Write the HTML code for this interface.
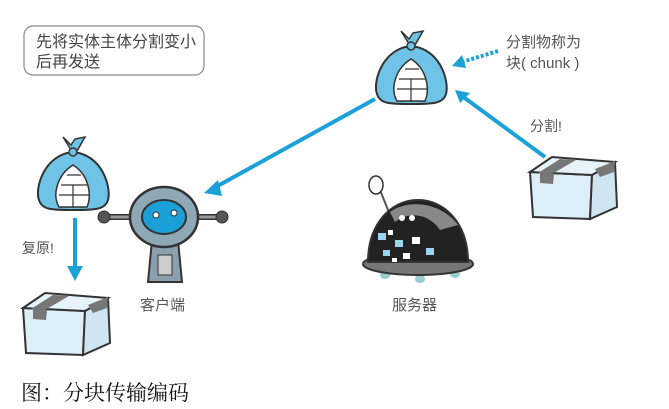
<!DOCTYPE html>
<html><head><meta charset="utf-8"><style>
html,body{margin:0;padding:0;background:#fff;}
body{width:669px;height:409px;overflow:hidden;position:relative;font-family:"Liberation Sans","Noto Sans CJK SC",sans-serif;}
.t{position:absolute;color:#555;white-space:nowrap;}
</style></head><body>
<svg width="669" height="409" style="position:absolute;left:0;top:0">
<defs>
<g id="box">
 <polygon points="0,15 62,18 60,62 3,60" fill="#dceef7" stroke="#333" stroke-width="2"/>
 <polygon points="62,18 85,5 87,50 60,62" fill="#cfe6f2" stroke="#333" stroke-width="2"/>
 <polygon points="0,15 22,0 85,5 62,18" fill="#e6f3fa" stroke="#333" stroke-width="2"/>
 <polygon points="30,2 46,3 22,17 8,16" fill="#777"/>
 <polygon points="10,16 24,17 23,27 10,26" fill="#777"/>
 <polygon points="65,12 85,4 84,15 70,20" fill="#777"/>
</g>
<g id="bundle">
 <path d="M30,18 C5,25 -2,55 2,65 C5,75 15,75 36,75 C57,75 68,75 71,65 C74,55 68,25 42,18 Z" fill="#6fc3e6" stroke="#333" stroke-width="2"/>
 <path d="M22,72 C15,60 20,40 36,30 C52,40 55,60 50,72 Z" fill="#fff" stroke="#333" stroke-width="1.5"/>
 <path d="M24,50 H50 M22,60 H52 M36,50 V73 M30,40 H44" stroke="#333" stroke-width="1.2"/>
 <path d="M36,18 L26,2 L34,10 L38,4 L48,2 L40,16 Z" fill="#6fc3e6" stroke="#333" stroke-width="1.5"/>
 <circle cx="36" cy="17" r="4" fill="#6fc3e6" stroke="#333" stroke-width="1.5"/>
</g>
</defs>
<rect x="24" y="26" width="180" height="49" rx="9" fill="#fff" stroke="#888" stroke-width="1.2"/>
<g stroke="#1ba0d8" stroke-width="4" fill="none">
 <line x1="375" y1="99" x2="214" y2="188"/>
 <line x1="545" y1="157" x2="462" y2="96"/>
 <line x1="75" y1="218" x2="75" y2="268"/>
 <line x1="498" y1="51" x2="462" y2="62" stroke-dasharray="3,2" stroke-width="4"/>
</g>
<g fill="#1ba0d8">
 <polygon points="204,193 218,180 222,196"/>
 <polygon points="455,90 470,93 460,103"/>
 <polygon points="67,266 83,266 75,281"/>
 <polygon points="452,66 462,55 466,68"/>
</g>
<use href="#bundle" x="375" y="29"/>
<use href="#bundle" x="37" y="135"/>
<use href="#box" x="530" y="157"/>
<use href="#box" x="23" y="293"/>
<!-- client robot -->
<line x1="104" y1="217" x2="224" y2="217" stroke="#333" stroke-width="6"/>
<line x1="104" y1="217" x2="224" y2="217" stroke="#999" stroke-width="3"/>
<circle cx="104" cy="217" r="6" fill="#555" stroke="#333"/>
<circle cx="222" cy="217" r="6" fill="#555" stroke="#333"/>
<path d="M152,240 L148,282 H182 L178,240 Z" fill="#8aa0ae" stroke="#333" stroke-width="2"/>
<rect x="158" y="255" width="14" height="20" fill="#ccc" stroke="#333"/>
<ellipse cx="164" cy="217" rx="34" ry="30" fill="#8fa8b6" stroke="#333" stroke-width="2.5"/>
<ellipse cx="164" cy="217" rx="22" ry="17" fill="#1ba0d8" stroke="#333" stroke-width="2"/>
<circle cx="156" cy="215" r="3" fill="#fff" stroke="#333"/><circle cx="174" cy="213" r="3" fill="#fff" stroke="#333"/>
<!-- server robot -->
<line x1="378" y1="185" x2="390" y2="215" stroke="#555" stroke-width="2"/>
<ellipse cx="376" cy="185" rx="7" ry="9" fill="#fff" stroke="#333" stroke-width="1.5"/>
<ellipse cx="385" cy="275" rx="5" ry="4" fill="#9cc"/><ellipse cx="420" cy="279" rx="5" ry="4" fill="#9cc"/><ellipse cx="455" cy="274" rx="5" ry="4" fill="#9cc"/>
<ellipse cx="418" cy="264" rx="55" ry="11" fill="#777" stroke="#333" stroke-width="2"/>
<path d="M368,262 C368,225 390,200 418,200 C446,200 468,225 468,262 Z" fill="#222" stroke="#333" stroke-width="2"/>
<path d="M390,212 C405,200 440,200 458,225 L440,230 C430,215 410,210 395,222 Z" fill="#888"/>
<circle cx="402" cy="218" r="3" fill="#fff"/><circle cx="412" cy="218" r="3" fill="#fff"/>
<g fill="#9ad4ee"><rect x="378" y="233" width="8" height="7"/><rect x="395" y="240" width="8" height="7"/><rect x="383" y="250" width="7" height="6"/><rect x="426" y="248" width="8" height="7"/></g>
<g fill="#fff"><rect x="388" y="230" width="5" height="5"/><rect x="412" y="237" width="8" height="7"/><rect x="403" y="253" width="7" height="6"/><rect x="392" y="258" width="5" height="4"/></g>
</svg>
<div class="t" style="left:36px;top:33px;font-size:16px;line-height:20px;color:#444">先将实体主体分割变小<br>后再发送</div>
<div class="t" style="left:506px;top:32px;font-size:15px;line-height:21px;color:#555">分割物称为<br>块( chunk )</div>
<div class="t" style="left:530px;top:116px;font-size:14px;">分割!</div>
<div class="t" style="left:22px;top:238px;font-size:14px;">复原!</div>
<div class="t" style="left:140px;top:294px;font-size:15px;">客户端</div>
<div class="t" style="left:392px;top:294px;font-size:15px;">服务器</div>
<div class="t" style="left:21px;top:377px;font-size:21px;color:#111;font-family:'Liberation Serif','Noto Serif CJK SC',serif;">图：分块传输编码</div>
</body></html>
